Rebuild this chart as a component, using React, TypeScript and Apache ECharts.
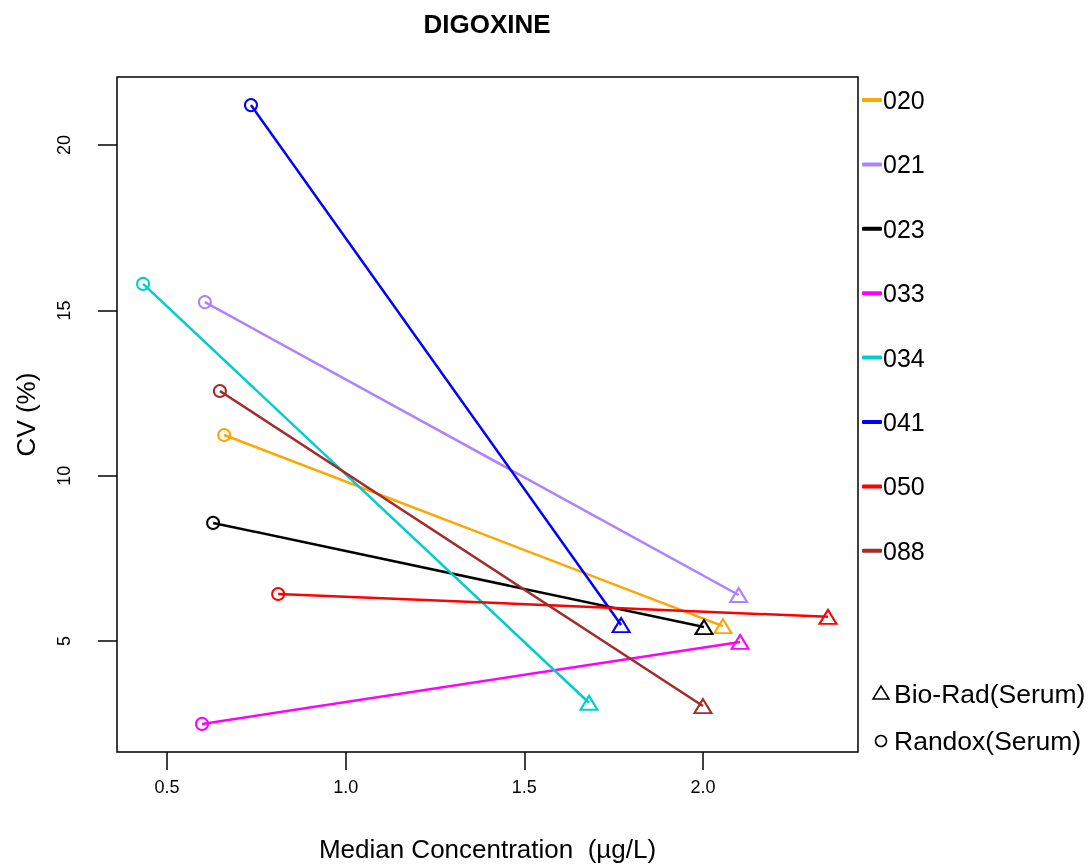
import React, { useEffect, useRef } from "react";
import * as echarts from "echarts";

const labs = ["020", "021", "023", "033", "034", "041", "050", "088"];
const colors = ["#FFA500", "#AB82FF", "#000000", "#FF00FF", "#00CDCD", "#0000FF", "#FF0000", "#A52A2A"];
const randoxX = [0.66, 0.606, 0.629, 0.598, 0.433, 0.735, 0.811, 0.648];
const randoxY = [11.23, 15.25, 8.57, 2.49, 15.8, 21.21, 6.42, 12.56];
const bioradX = [2.056, 2.1, 2.003, 2.104, 1.681, 1.771, 2.35, 2.0];
const bioradY = [5.45, 6.39, 5.42, 4.97, 3.13, 5.48, 5.73, 3.03];
const xTicks = [0.5, 1.0, 1.5, 2.0];
const yTicks = [5, 10, 15, 20];

const FONT = "Liberation Sans, Arial, sans-serif";

export default function App() {
  const ref = useRef<HTMLDivElement>(null);
  useEffect(() => {
    if (!ref.current) return;
    const chart = echarts.init(ref.current, null, { renderer: "svg" });
    const series = labs.map((lab, i) => ({
      name: lab,
      type: "line",
      color: colors[i],
      lineStyle: { color: colors[i], width: 2.5 },
      symbolSize: 13,
      z: 3,
      data: [
        {
          value: [randoxX[i], randoxY[i]],
          symbol: "circle",
          symbolSize: 12,
          itemStyle: { color: "none", borderColor: colors[i], borderWidth: 2 },
        },
        {
          value: [bioradX[i], bioradY[i]],
          symbol: "triangle",
          symbolSize: [17, 14],
          itemStyle: { color: "none", borderColor: colors[i], borderWidth: 2 },
        },
      ],
    }));
    chart.setOption({
      animation: false,
      textStyle: { fontFamily: FONT },
      grid: {
        left: 117,
        right: 234,
        top: 77,
        bottom: 112,
        show: true,
        borderColor: "#000",
        borderWidth: 1.5,
        backgroundColor: "transparent",
        outerBoundsMode: "none",
        containLabel: false,
      },
      xAxis: {
        type: "value",
        min: 0.36,
        max: 2.434,
        splitLine: { show: false },
        axisLine: { show: false },
        axisTick: {
          show: true,
          customValues: xTicks,
          length: 18,
          lineStyle: { color: "#000", width: 1.5 },
        },
        axisLabel: {
          customValues: xTicks,
          formatter: (v: number) => v.toFixed(1),
          color: "#000",
          fontSize: 18,
          margin: 26,
          fontFamily: FONT,
        },
        name: "Median Concentration  (\u00b5g/L)",
        nameLocation: "middle",
        nameGap: 84,
        nameTextStyle: { fontSize: 26, color: "#000", fontFamily: FONT },
      },
      yAxis: {
        type: "value",
        min: 1.64,
        max: 22.06,
        splitLine: { show: false },
        axisLine: { show: false },
        axisTick: {
          show: true,
          customValues: yTicks,
          length: 19,
          lineStyle: { color: "#000", width: 1.5 },
        },
        axisLabel: {
          customValues: yTicks,
          rotate: 90,
          color: "#000",
          fontSize: 18,
          margin: 44,
          fontFamily: FONT,
        },
        name: "CV (%)",
        nameLocation: "middle",
        nameGap: 78,
        nameRotate: 90,
        nameTextStyle: { fontSize: 26, color: "#000", fontFamily: FONT },
      },
      legend: {
        orient: "vertical",
        left: 862,
        top: 86,
        padding: 0,
        icon: "roundRect",
        itemWidth: 20,
        itemHeight: 4,
        itemGap: 36.4,
        selectedMode: false,
        textStyle: { fontSize: 25, lineHeight: 28, color: "#000", padding: [0, 0, 0, -4], fontFamily: FONT },
        data: labs.map((l, i) => ({ name: l, itemStyle: { color: colors[i] } })),
      },
      graphic: [
        {
          type: "text",
          x: 487,
          y: 24,
          style: {
            text: "DIGOXINE",
            align: "center",
            verticalAlign: "middle",
            fontSize: 26,
            fontWeight: "bold",
            fill: "#000",
            fontFamily: FONT,
          },
        },
        {
          type: "polygon",
          shape: { points: [[881, 686], [873, 699], [889, 699]] },
          style: { fill: "none", stroke: "#000", lineWidth: 1.5 },
        },
        {
          type: "text",
          x: 894,
          y: 694,
          style: {
            text: "Bio-Rad(Serum)",
            verticalAlign: "middle",
            fontSize: 26.5,
            fill: "#000",
            fontFamily: FONT,
          },
        },
        {
          type: "circle",
          shape: { cx: 881, cy: 741, r: 5.5 },
          style: { fill: "none", stroke: "#000", lineWidth: 1.5 },
        },
        {
          type: "text",
          x: 894,
          y: 741,
          style: {
            text: "Randox(Serum)",
            verticalAlign: "middle",
            fontSize: 26.5,
            fill: "#000",
            fontFamily: FONT,
          },
        },
      ],
      series,
    });
    return () => chart.dispose();
  }, []);
  return <div ref={ref} style={{ position: "fixed", left: 0, top: 0, width: 1092, height: 864 }} />;
}
